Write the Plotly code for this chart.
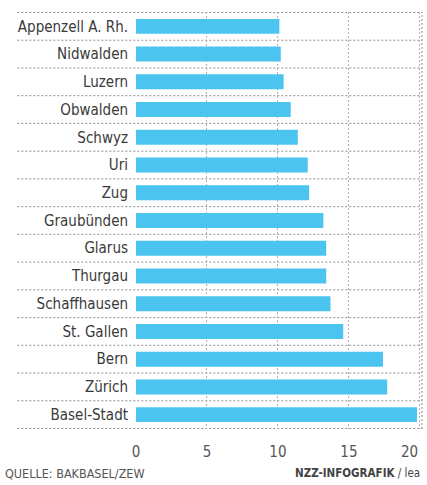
import plotly.graph_objects as go

cantons = ["Appenzell A. Rh.", "Nidwalden", "Luzern", "Obwalden", "Schwyz", "Uri", "Zug",
           "Graubünden", "Glarus", "Thurgau", "Schaffhausen", "St. Gallen", "Bern",
           "Zürich", "Basel-Stadt"]
values = [10.1, 10.2, 10.4, 10.9, 11.4, 12.1, 12.2, 13.2, 13.4, 13.4, 13.7, 14.6, 17.4, 17.7, 19.8]
x_ticks = [0, 5, 10, 15, 20]

FONT = "DejaVu Sans Condensed, Liberation Sans Narrow, Roboto, sans-serif"
BAR = "#4cc4f0"
GRID = "#8f8f8f"
TICK_FONT = dict(family=FONT, size=15, color="#555555")

fig = go.Figure()
fig.add_trace(go.Bar(
    x=values, y=cantons, orientation="h",
    marker=dict(color=BAR, line=dict(width=0)),
    hoverinfo="x+y",
))

# horizontal dotted separators between rows (extending into the label area)
n = len(cantons)
for i in range(n + 1):
    fig.add_shape(type="line", xref="paper", yref="y",
                  x0=-0.415, x1=1.0, y0=i - 0.5, y1=i - 0.5,
                  line=dict(color=GRID, width=1, dash="2px,2px"), layer="below")
# right border dotted
fig.add_shape(type="line", xref="paper", yref="paper", x0=1, x1=1, y0=0, y1=1,
              line=dict(color=GRID, width=1, dash="2px,2px"), layer="below")

# tick labels: last one right-aligned to its gridline so it stays inside the frame
tick_text = [str(v) for v in x_ticks[:-1]] + [""]

fig.update_layout(
    width=427, height=485,
    margin=dict(l=136, r=5, t=12, b=56, autoexpand=False),
    paper_bgcolor="white", plot_bgcolor="white",
    bargap=0.46,
    showlegend=False,
    font=dict(family=FONT, color="#3a3a3a"),
    xaxis=dict(range=[0, 20.15], tickvals=x_ticks, ticktext=tick_text,
               showgrid=True, gridcolor="#b0b0b0", griddash="2px,2px", gridwidth=1,
               zeroline=False, showline=False, ticks="", automargin=False,
               ticklabelstandoff=12,
               tickfont=TICK_FONT, fixedrange=True),
    yaxis=dict(categoryorder="array", categoryarray=cantons, autorange="reversed",
               showgrid=False, zeroline=False, showline=False, ticks="", automargin=False,
               ticklabelstandoff=7,
               tickfont=dict(family=FONT, size=15, color="#3a3a3a"), fixedrange=True),
    annotations=[
        dict(text=str(x_ticks[-1]), xref="x", yref="paper",
             x=x_ticks[-1], y=-23/417, xanchor="right", yanchor="middle", showarrow=False,
             font=TICK_FONT),
        dict(text="QUELLE: BAKBASEL/ZEW", xref="paper", yref="paper",
             x=-133/286, y=-44/417, xanchor="left", yanchor="middle", showarrow=False,
             font=dict(family=FONT, size=12.5, color="#555555")),
        dict(text="<b>NZZ-INFOGRAFIK</b> / lea", xref="paper", yref="paper",
             x=1.0, y=-44/417, xanchor="right", yanchor="middle", showarrow=False,
             font=dict(family=FONT, size=11.5, color="#444444")),
    ],
)

fig.write_html("out.html", config={"displayModeBar": False},
               post_script="document.body.style.margin='0';")
